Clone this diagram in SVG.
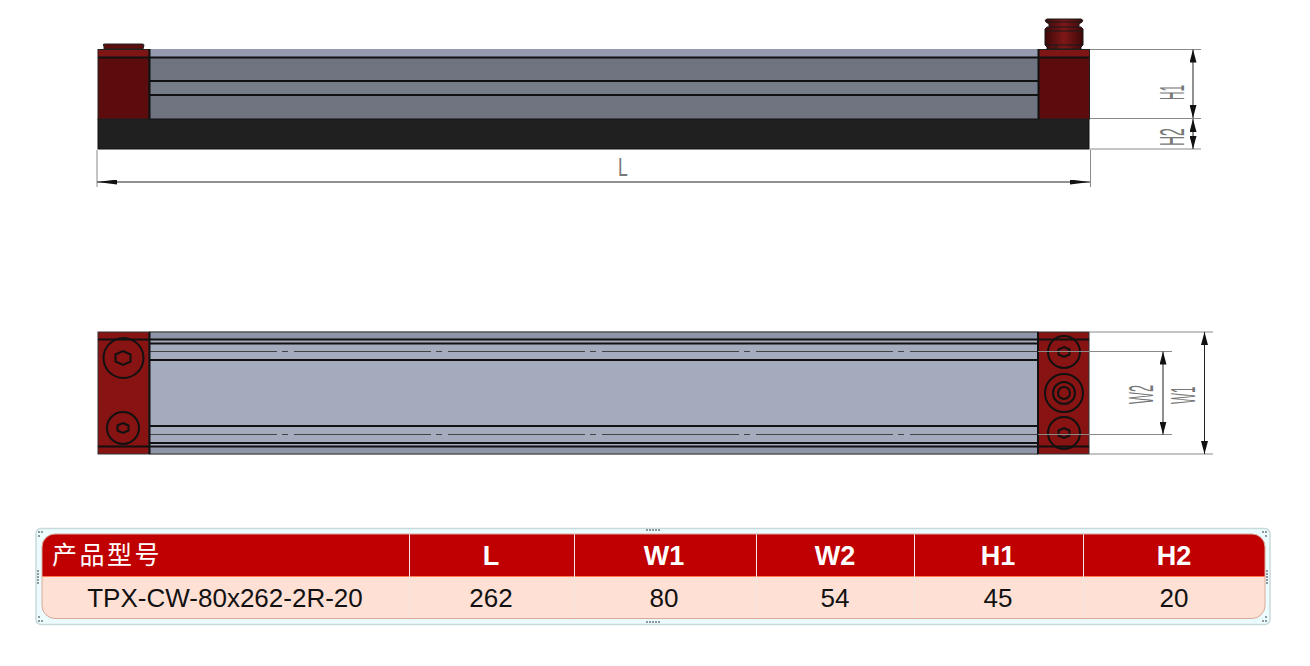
<svg xmlns="http://www.w3.org/2000/svg" width="1310" height="666" viewBox="0 0 1310 666">
<style>
.k{stroke:#111;stroke-width:2;fill:none}
.t{stroke:#444;stroke-width:1;fill:none}
.d{stroke:#8a8a8a;stroke-width:1;fill:none}
.dd{stroke:#222;stroke-width:1;fill:none}
.dim{font-family:"Liberation Sans",sans-serif;font-size:35px;fill:#777}
.hd{font-family:"Liberation Sans",sans-serif;font-size:27px;font-weight:bold;fill:#fff;text-anchor:middle}
.cell{font-family:"Liberation Sans",sans-serif;font-size:26px;fill:#111;text-anchor:middle}
.hz{font-family:"Liberation Serif","Noto Sans CJK SC",serif;font-size:25px;fill:#fff;letter-spacing:2.500px}
.grip{fill:#8c9a9c}
.sep{stroke:#f3e6e2;stroke-width:1}
</style>
<defs>
<marker id="arr" viewBox="0 0 13 7" refX="13" refY="3.500" markerWidth="13" markerHeight="7" markerUnits="userSpaceOnUse" orient="auto-start-reverse"><path d="M0 0L13 3.500L0 7Z" fill="#111"/></marker>
<marker id="arrl" viewBox="0 0 20 5" refX="20" refY="2.500" markerWidth="20" markerHeight="5" markerUnits="userSpaceOnUse" orient="auto-start-reverse"><path d="M0 0L20 2.500L0 5Z" fill="#111"/></marker>
<linearGradient id="fit" x1="0" x2="1" y1="0" y2="0"><stop offset="0" stop-color="#3e0808"/><stop offset=".5" stop-color="#7e1818"/><stop offset="1" stop-color="#3e0808"/></linearGradient>
<clipPath id="tbl"><rect x="42" y="534" width="1223" height="84.500" rx="13"/></clipPath>
</defs>
<rect width="1310" height="666" fill="#fff"/>

<g id="side-view">
<rect x="149" y="49" width="889" height="70" fill="#6f7480"/>
<rect x="149" y="49" width="889" height="8" fill="#959aae"/>
<rect x="149" y="82" width="889" height="13" fill="#777c8a"/>
<path class="k" d="M149 57.500H1038M149 81H1038M149 95H1038" stroke-width="2.500"/>
<rect x="98" y="119" width="991" height="30" fill="#202020" stroke="#111" stroke-width="1"/>
<g id="side-end-left">
<path d="M104 49V46L103 45Q103 44 105 44H142Q144 44 144 45L143 49Z" fill="#5c0d0d" stroke="#222" stroke-width="1"/>
<rect x="98" y="49.500" width="51" height="69.500" fill="#5c0c0c" stroke="#222" stroke-width="1"/>
<rect x="98.500" y="50" width="50" height="7" fill="#7e1616"/>
<path class="k" d="M98 57.500H149"/>
<path class="k" d="M149.500 49V119" stroke-width="2.500"/>
</g>
<g id="side-end-right">
<rect x="1038.500" y="49.500" width="51" height="69.500" fill="#5c0c0c" stroke="#222" stroke-width="1"/>
<rect x="1039" y="50" width="50" height="7" fill="#7e1616"/>
<path class="k" d="M1038 57.500H1089"/>
<path class="k" d="M1038.500 49V119" stroke-width="2.500"/>
</g>
<g id="fitting">
<path d="M1047 19H1081Q1084 20 1082 22L1079 24V27H1081L1083 29V45L1081 47V49H1047V47L1045 45V29L1047 27H1049V24L1046 22Q1044 20 1047 19Z" fill="url(#fit)" stroke="#1a1a1a" stroke-width="1"/>
<path d="M1046 22H1082M1049 27H1079M1045 31H1083M1046 45H1082M1056 45V49" stroke="#1a1a1a" stroke-width="1" fill="none"/>
</g>
</g>

<g id="top-view">
<rect x="149" y="332" width="889" height="122" fill="#a4abbd"/>
<rect x="149" y="332" width="889" height="8" fill="#8f95a8"/>
<rect x="149" y="446" width="889" height="8" fill="#8f95a8"/>
<path d="M149 332H1038M149 454H1038" stroke="#555" stroke-width="1.500"/>
<path class="k" d="M149 339.500H1038M149 343.500H1038M149 360H1038"/>
<path class="k" d="M149 426H1038M149 443H1038M149 446.500H1038"/>
<path class="t" d="M143 351.500H277M282 351.500H288M294 351.500H431M436 351.500H442M448 351.500H585M590 351.500H596M602 351.500H739M744 351.500H750M756 351.500H893M898 351.500H904M910 351.500H1038M143 434.500H277M282 434.500H288M294 434.500H431M436 434.500H442M448 434.500H585M590 434.500H596M602 434.500H739M744 434.500H750M756 434.500H893M898 434.500H904M910 434.500H1038"/>
<g id="end-left">
<rect x="98" y="332" width="51" height="122" fill="#871313" stroke="#333" stroke-width="1"/>
<path class="k" d="M98 339.500H149M98 446.500H149" stroke-width="1"/>
<path class="k" d="M149.500 332V454" stroke-width="2.500"/>
<circle class="k" cx="123.500" cy="358" r="20" stroke-width="1.500"/>
<path class="k" d="M123 351L130.500 354.500V361.500L123 365L115.500 361.500V354.500Z" stroke-width="1.500"/>
<circle class="k" cx="123" cy="428" r="16" stroke-width="1.500"/>
<path class="k" d="M123 423L128.500 425.500V430.500L123 433L117.500 430.500V425.500Z" stroke-width="1.500"/>
</g>
<g id="end-right">
<rect x="1038" y="332" width="51" height="122" fill="#871313" stroke="#333" stroke-width="1"/>
<path class="k" d="M1038 339.500H1089M1038 446.500H1089" stroke-width="1"/>
<path class="k" d="M1038 332V454" stroke-width="2.500"/>
<circle class="k" cx="1064" cy="352" r="16" stroke-width="1.500"/>
<path class="k" d="M1064 347L1069.500 349.500V354.500L1064 357L1058.500 354.500V349.500Z" stroke-width="1.500"/>
<circle class="k" cx="1064" cy="393" r="19" stroke-width="2"/>
<circle class="k" cx="1064" cy="393" r="11" stroke-width="1.500"/>
<circle class="k" cx="1064" cy="393" r="6" stroke-width="1.500"/>
<circle class="k" cx="1064" cy="433" r="16" stroke-width="1.500"/>
<path class="k" d="M1064 428L1069.500 430.500V435.500L1064 438L1058.500 435.500V430.500Z" stroke-width="1.500"/>
</g>
</g>

<g id="connectors">
<path class="d" d="M1090 49.500H1201M1090 118.500H1201M1090 149H1201"/>
<path class="dd" marker-start="url(#arr)" marker-end="url(#arr)" d="M1193 49.500V118"/>
<path class="dd" marker-start="url(#arr)" marker-end="url(#arr)" d="M1193 119V149"/>
<path class="d" d="M97 150V187M1090.500 150V187"/>
<path class="dd" marker-start="url(#arrl)" marker-end="url(#arrl)" d="M97 182H1090"/>
<path class="d" d="M1089 332H1213M1089 454H1213M1038 351.500H1172M1038 434.500H1172"/>
<path class="dd" marker-start="url(#arr)" marker-end="url(#arr)" d="M1204.500 332V454"/>
<path class="dd" marker-start="url(#arr)" marker-end="url(#arr)" d="M1163 351.500V434.500"/>
</g>

<g id="dim-labels">
<text class="dim" transform="translate(1184 100) rotate(-90) scale(.34 1)">H1</text>
<text class="dim" transform="translate(1184 146) rotate(-90) scale(.4 1)">H2</text>
<text class="dim" transform="translate(1153 404) rotate(-90) scale(.36 1)">W2</text>
<text class="dim" transform="translate(1195 404) rotate(-90) scale(.33 1)">W1</text>
<text class="dim" transform="translate(618 176) scale(.5 .72)">L</text>
</g>

<g id="spec-table">
<rect x="36" y="528.500" width="1234" height="96" rx="5" fill="#ecfbfe" stroke="#c9dadb" stroke-width="1.500"/>
<g clip-path="url(#tbl)">
<rect x="42" y="534" width="1223" height="42.500" fill="#c00000"/>
<rect x="42" y="576.500" width="1223" height="42" fill="#ffe0d5"/>
<path d="M42 576.500H1265" stroke="#ff7a50" stroke-width="1"/>
<path class="sep" d="M409.500 534V618M574.500 534V618M756.500 534V618M914.500 534V618M1083.500 534V618"/>
</g>
<rect x="42" y="534" width="1223" height="84.500" rx="13" fill="none" stroke="#d9a99a" stroke-width="1"/>
<text class="hz" x="52" y="564">产品型号</text>
<text class="hd" x="491" y="565">L</text>
<text class="hd" x="664" y="565">W1</text>
<text class="hd" x="835" y="565">W2</text>
<text class="hd" x="998" y="565">H1</text>
<text class="hd" x="1174" y="565">H2</text>
<text class="cell" x="225" y="607">TPX-CW-80x262-2R-20</text>
<text class="cell" x="491" y="607">262</text>
<text class="cell" x="664" y="607">80</text>
<text class="cell" x="835" y="607">54</text>
<text class="cell" x="998" y="607">45</text>
<text class="cell" x="1174" y="607">20</text>
<g id="grips" class="grip">
<path d="M646 529h2v2h-2zM649 529h2v2h-2zM652 529h2v2h-2zM655 529h2v2h-2zM658 529h2v2h-2z"/>
<path d="M646 621h2v2h-2zM649 621h2v2h-2zM652 621h2v2h-2zM655 621h2v2h-2zM658 621h2v2h-2z"/>
<path d="M37 570h2v2h-2zM37 573h2v2h-2zM37 576h2v2h-2zM37 579h2v2h-2zM37 582h2v2h-2z"/>
<path d="M1266 570h2v2h-2zM1266 573h2v2h-2zM1266 576h2v2h-2zM1266 579h2v2h-2zM1266 582h2v2h-2z"/>
<path d="M38 531h2v2h-2zM41 531h2v2h-2zM38 535h2v2h-2z"/>
<path d="M1262 531h2v2h-2zM1265 531h2v2h-2zM1265 535h2v2h-2z"/>
<path d="M38 616h2v2h-2zM38 620h2v2h-2zM41 620h2v2h-2z"/>
<path d="M1265 616h2v2h-2zM1262 620h2v2h-2zM1265 620h2v2h-2z"/>
</g>
</g>
</svg>
